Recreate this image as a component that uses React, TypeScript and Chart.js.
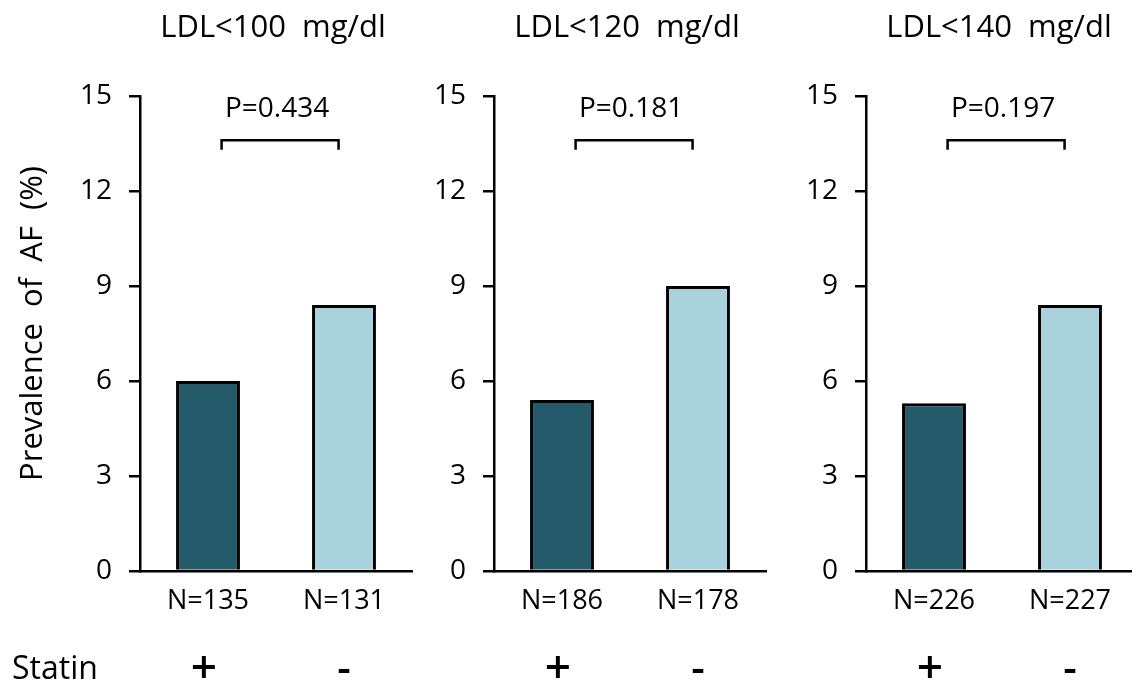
import React, { useEffect, useRef } from "react";
import { Chart, registerables } from "chart.js";

Chart.register(...registerables);

// ---- data ----
const panelTitles = ["LDL<100  mg/dl", "LDL<120  mg/dl", "LDL<140  mg/dl"];
const nLabels1 = ["N=135", "N=131"];
const nLabels2 = ["N=186", "N=178"];
const nLabels3 = ["N=226", "N=227"];
const prevalence1 = [6.0, 8.4];
const prevalence2 = [5.4, 9.0];
const prevalence3 = [5.3, 8.4];
const pValues = ["P=0.434", "P=0.181", "P=0.197"];
const statinMarks = ["+", "-"];
const rowLabel = "Statin";
const yAxisTitle = "Prevalence  of  AF  (%)";
const yMin = 0;
const yMax = 15;
const yStep = 3;
const bracketLevel = 13.6;
const bracketTip = 13.3;
const pLevel = 14.6;

const barColors = ["#245A69", "#AAD2DC"];
const FONT = "'Open Sans', 'DejaVu Sans', sans-serif";

const panels = [
  { labels: nLabels1, values: prevalence1, title: panelTitles[0], p: pValues[0], left: 0, first: true },
  { labels: nLabels2, values: prevalence2, title: panelTitles[1], p: pValues[1], left: 354, first: false },
  { labels: nLabels3, values: prevalence3, title: panelTitles[2], p: pValues[2], left: 726, first: false },
];

function makeAnnotPlugin(panel: any) {
  return {
    id: "annot",
    afterDraw(chart: any) {
      const { ctx, chartArea } = chart;
      const xs = chart.scales.x;
      const ys = chart.scales.y;
      ctx.save();
      ctx.fillStyle = "#000";
      ctx.strokeStyle = "#000";

      // panel title
      ctx.font = `31px ${FONT}`;
      ctx.textAlign = "center";
      ctx.textBaseline = "middle";
      ctx.fillText(panel.title, (chartArea.left + chartArea.right) / 2 - 3, 28);

      // bracket
      const x0 = xs.getPixelForValue(0.1);
      const x1 = xs.getPixelForValue(0.96);
      const yb = ys.getPixelForValue(bracketLevel);
      const yt = ys.getPixelForValue(bracketTip);
      ctx.lineWidth = 2.5;
      ctx.beginPath();
      ctx.moveTo(x0, yt);
      ctx.lineTo(x0, yb);
      ctx.lineTo(x1, yb);
      ctx.lineTo(x1, yt);
      ctx.stroke();

      // p value
      ctx.font = `28px ${FONT}`;
      ctx.fillText(panel.p, (x0 + x1) / 2 - 3, ys.getPixelForValue(pLevel));

      // statin marks
      statinMarks.forEach((m, i) => {
        ctx.font = m === "+" ? `600 46px ${FONT}` : `600 42px ${FONT}`;
        ctx.fillText(m, xs.getPixelForValue(i) - (m === "+" ? 4 : 0), 670);
      });

      if (panel.first) {
        ctx.font = `32px ${FONT}`;
        ctx.textAlign = "left";
        ctx.fillText(rowLabel, 12, 670);

        ctx.save();
        ctx.translate(33, (chartArea.top + chartArea.bottom) / 2 - 10);
        ctx.rotate(-Math.PI / 2);
        ctx.textAlign = "center";
        ctx.font = `31px ${FONT}`;
        ctx.fillText(yAxisTitle, 0, 0);
        ctx.restore();
      }
      ctx.restore();
    },
  };
}

function Panel({ panel }: { panel: any }) {
  const ref = useRef<HTMLCanvasElement | null>(null);
  useEffect(() => {
    if (!ref.current) return;
    const chart = new Chart(ref.current, {
      type: "bar",
      data: {
        labels: panel.labels,
        datasets: [
          {
            data: panel.values,
            backgroundColor: barColors,
            borderColor: "#000",
            borderWidth: 3,
            barPercentage: 0.47,
            categoryPercentage: 1,
          },
        ],
      },
      options: {
        responsive: false,
        animation: false,
        events: [],
        layout: { padding: { top: 96, right: 8, left: 0, bottom: 0 } },
        plugins: {
          legend: { display: false },
          tooltip: { enabled: false },
          title: { display: false },
        },
        scales: {
          x: {
            grid: { display: false, drawTicks: false },
            border: { display: true, color: "#000", width: 2.5 },
            ticks: { color: "#000", font: { family: FONT, size: 27 }, padding: 14 },
            afterFit: (s: any) => {
              s.height = 118;
            },
          },
          y: {
            min: yMin,
            max: yMax,
            ticks: { stepSize: yStep, color: "#000", font: { family: FONT, size: 28 }, padding: 17 },
            grid: { drawOnChartArea: false, drawTicks: true, tickLength: 11, color: "#000", lineWidth: 2.5 },
            border: { display: true, color: "#000", width: 2.5 },
            afterFit: (s: any) => {
              s.width = 140;
            },
          },
        },
      },
      plugins: [makeAnnotPlugin(panel)],
    } as any);
    return () => chart.destroy();
  }, [panel]);
  return (
    <canvas
      ref={ref}
      width={420}
      height={689}
      style={{ position: "absolute", left: panel.left, top: 0, width: 420, height: 689 }}
    />
  );
}

export default function App() {
  return (
    <div
      style={{
        position: "absolute",
        left: 0,
        top: 0,
        width: 1132,
        height: 689,
        overflow: "hidden",
        background: "#fff",
      }}
    >
      {panels.map((p, i) => (
        <Panel key={i} panel={p} />
      ))}
    </div>
  );
}
